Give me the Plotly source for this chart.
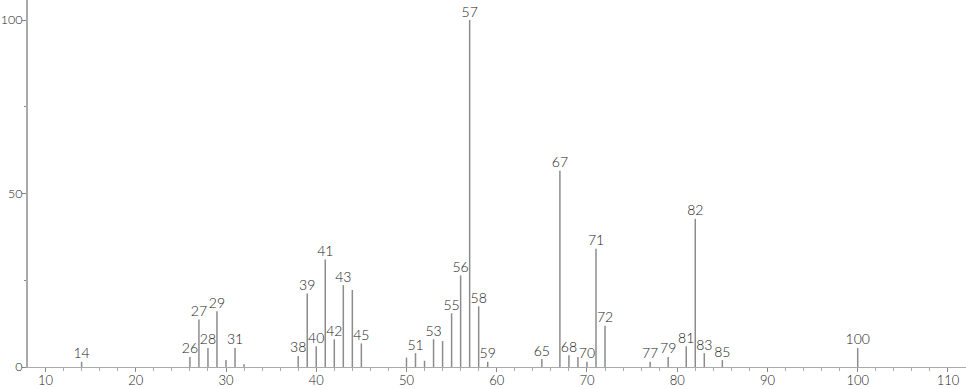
import plotly.graph_objects as go

# m/z values and relative intensities
mz = [14, 26, 27, 28, 29, 30, 31, 32, 38, 39, 40, 41, 42, 43, 44, 45,
      50, 51, 52, 53, 54, 55, 56, 57, 58, 59, 65, 67, 68, 69, 70, 71, 72,
      77, 79, 81, 82, 83, 85, 100]
intensity = [1.5, 2.9, 13.7, 5.5, 16.1, 2.0, 5.5, 0.8, 3.2, 21.2, 6.0, 31.0, 8.0, 23.6, 22.2, 6.8,
             2.7, 4.0, 1.8, 8.0, 7.5, 15.5, 26.4, 100, 17.5, 1.5, 2.3, 56.6, 3.4, 2.9, 1.5, 34.1, 11.9,
             1.5, 2.9, 6.0, 42.7, 4.0, 2.0, 5.5]
labeled = [14, 26, 27, 28, 29, 31, 38, 39, 40, 41, 42, 43, 45, 51, 53, 55, 56, 57, 58, 59,
           65, 67, 68, 70, 71, 72, 77, 79, 81, 82, 83, 85, 100]

x_ticks = [10, 20, 30, 40, 50, 60, 70, 80, 90, 100, 110]
y_ticks = [0, 50, 100]

xs, ys = [], []
for m, h in zip(mz, intensity):
    xs += [m, m, None]
    ys += [0, h, None]

lab_x = [m for m in mz if m in labeled]
lab_y = [h for m, h in zip(mz, intensity) if m in labeled]
lab_t = [str(m) for m in lab_x]

fig = go.Figure()
fig.add_trace(go.Scatter(x=xs, y=ys, mode="lines",
                         line=dict(color="#8c8c8c", width=1.5),
                         hoverinfo="skip", showlegend=False))
fig.add_trace(go.Scatter(x=lab_x, y=lab_y, mode="text", text=lab_t,
                         textposition="top center",
                         textfont=dict(family="Lato", size=14, color="#222", weight=300),
                         cliponaxis=False, showlegend=False))

fig.update_layout(
    width=966, height=389,
    margin=dict(l=28, r=0, t=0, b=22),
    plot_bgcolor="white", paper_bgcolor="white",
    font=dict(family="Lato", size=13, color="#222", weight=300),
    xaxis=dict(range=[8.06, 112], tickmode="array", tickvals=x_ticks,
               automargin=False,
               showgrid=False, zeroline=False, showline=True,
               linecolor="#aaaaaa", linewidth=1, ticks="outside", ticklen=4,
               ticklabelstandoff=-3,
               tickcolor="#888", tickfont=dict(size=13),
               minor=dict(dtick=2, ticks="outside", ticklen=3, tickcolor="#aaa")),
    yaxis=dict(range=[0, 105.8], tickmode="array", tickvals=y_ticks,
               automargin=False,
               showgrid=False, zeroline=False, showline=True,
               linecolor="#aaaaaa", linewidth=2, ticks="outside", ticklen=4,
               ticklabelstandoff=-3,
               tickcolor="#888", tickfont=dict(size=12.5),
               minor=dict(dtick=25, ticks="outside", ticklen=2, tickcolor="#888")),
)

fig.write_html("out.html")
